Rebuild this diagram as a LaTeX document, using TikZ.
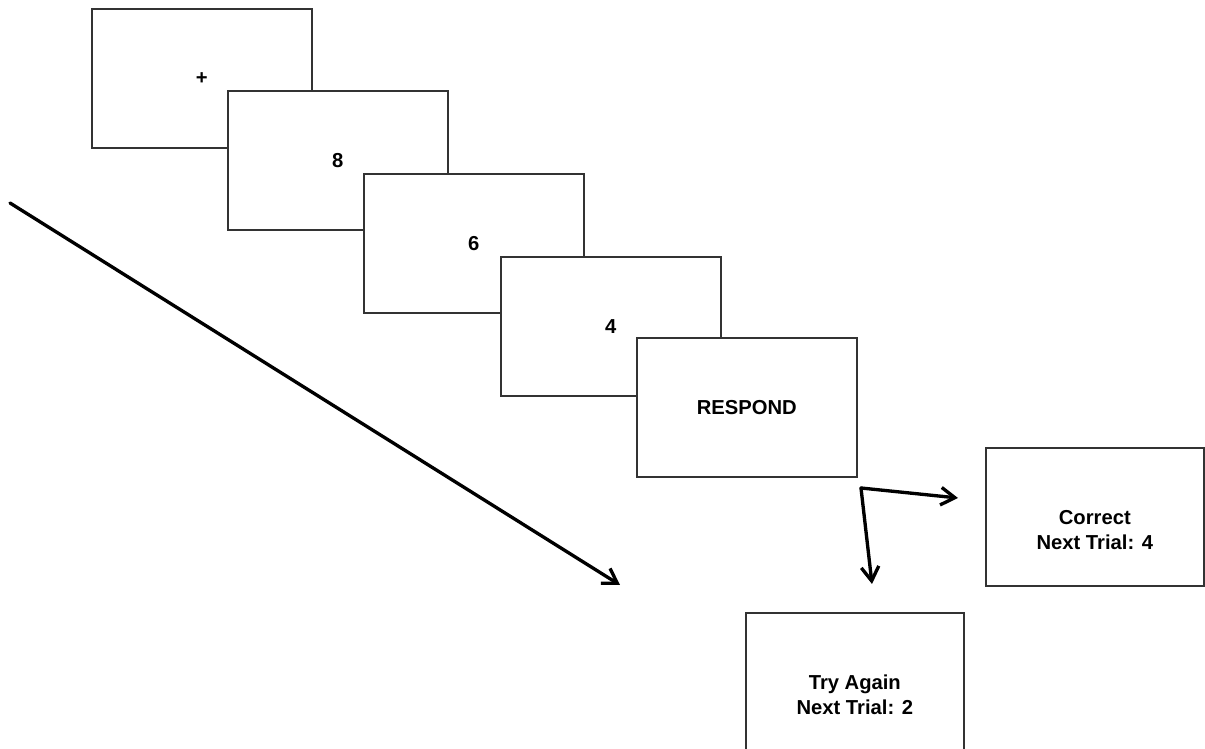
\documentclass[tikz,border=0pt]{standalone}
\usepackage{fontspec}
\setmainfont{Liberation Sans}
\usetikzlibrary{arrows.meta,positioning}

\begin{document}
\begin{tikzpicture}[x=0.02cm, y=-0.02cm,
  every node/.style={font=\fontsize{11.5}{14}\selectfont\bfseries},
  screen/.style={draw=black!80, line width=0.95pt, fill=white, minimum width=4.4cm, minimum height=2.78cm, inner sep=0pt, anchor=north west},
  feedback/.style={screen, minimum width=4.36cm, minimum height=2.76cm},
  msg/.style={align=center, yshift=-0.26cm},
  flow/.style={line width=1.9pt, line cap=round, -{Straight Barb[length=8pt,width=10pt]}}
]
\useasboundingbox (0,0) rectangle (1205,749);

%========== trial sequence ==========
\node[screen] (fix)   at (91,8)    {+};
\node[screen] (first) at (227,90)  {8};
\node[screen] (secnd) at (363,173) {6};
\node[screen] (third) at (500,256) {4};
\node[screen] (resp)  at (636,337) {RESPOND};

%========== feedback screens ==========
\node[feedback, label={[msg]center:Correct\\Next Trial: 4}] (correct) at (985,447) {};
\node[feedback, label={[msg]center:Try Again\\Next Trial: 2}] (again) at (745,612) {};

%========== time arrow ==========
\coordinate (tstart) at (10,203);
\coordinate (tend)   at (620,585);
\draw[flow] (tstart) -- (tend);

%========== response branches ==========
\coordinate (split)   at (861,488);
\coordinate (toright) at (958,498);
\coordinate (todown)  at (872,584);
\draw[flow] (split) -- (toright);
\draw[flow] (split) -- (todown);

\end{tikzpicture}
\end{document}
